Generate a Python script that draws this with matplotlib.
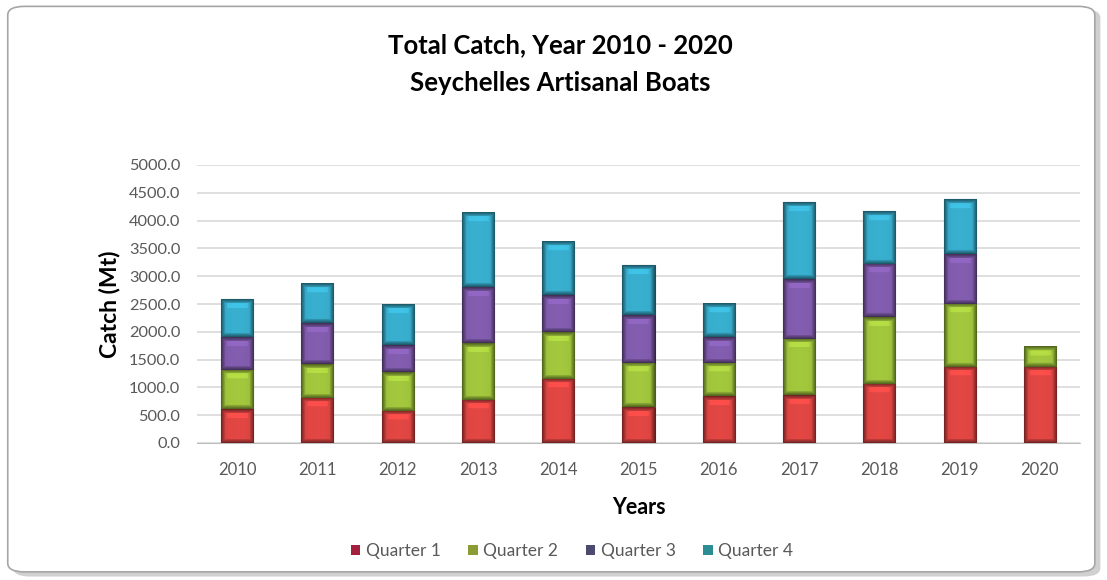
import matplotlib
matplotlib.use("Agg")
import matplotlib.pyplot as plt
from matplotlib.patches import FancyBboxPatch, Patch
from matplotlib.colors import to_rgb
import numpy as np

years = ["2010", "2011", "2012", "2013", "2014", "2015", "2016", "2017", "2018", "2019", "2020"]
q1 = [610, 817, 576, 781, 1158, 647, 845, 858, 1068, 1367, 1367]
q2 = [710, 611, 701, 1018, 838, 792, 601, 1020, 1198, 1140, 360]
q3 = [590, 737, 480, 1007, 660, 858, 460, 1079, 961, 899, 0]
q4 = [680, 702, 732, 1338, 959, 899, 601, 1378, 940, 977, 0]
series_names = ["Quarter 1", "Quarter 2", "Quarter 3", "Quarter 4"]
yticks = [0, 500, 1000, 1500, 2000, 2500, 3000, 3500, 4000, 4500, 5000]

colors = ["#D64340", "#9ABD3A", "#7C58A6", "#36A6C4"]
edges = ["#6E1A18", "#45601A", "#35234F", "#14505F"]
legend_colors = ["#A3213F", "#8C9C34", "#4C4A70", "#2C8C93"]

plt.rcParams['font.family'] = ['Lato', 'DejaVu Sans']

fig = plt.figure(figsize=(11.07, 5.80), dpi=100)
fig.patch.set_facecolor("white")

shadow = FancyBboxPatch((0.012, 0.006), 0.982, 0.978, boxstyle="round,pad=0,rounding_size=0.015",
                        transform=fig.transFigure, facecolor="#D0D0D0", edgecolor="none", zorder=-3)
border = FancyBboxPatch((0.007, 0.014), 0.982, 0.975, boxstyle="round,pad=0,rounding_size=0.015",
                        transform=fig.transFigure, facecolor="white", edgecolor="#A6A6A6", linewidth=1.2, zorder=-2)
fig.patches.extend([shadow, border])

ax = fig.add_axes([197/1107, 1 - 443/580, (1080-197)/1107, (443-165)/580])
ax.set_facecolor("none")
ax.set_zorder(1)
ax.set_xlim(-0.5, len(years) - 0.5)
ax.set_ylim(0, 5000)


def bevel_image(rgb, w_px, h_px):
    nx = max(int(round(w_px)), 4)
    ny = max(int(round(h_px)), 4)
    i = np.arange(nx)
    j = np.arange(ny)
    dx = np.minimum(i, nx - 1 - i)[None, :]
    dy = np.minimum(j, ny - 1 - j)[:, None]
    d = np.minimum(dx, dy).astype(float)
    shade = np.where(d < 4, 0.55 + 0.11 * d, 1.0)
    cx = (i - (nx - 1) / 2) / (nx / 2)
    shade = shade + np.where(d >= 4, 0.06 * (1 - cx[None, :] ** 2), 0)
    top = (ny - 1 - j)[:, None]
    shade = shade + np.where((top >= 4) & (top < 9) & (dx >= 6), 0.12, 0)
    img = np.clip(np.array(rgb)[None, None, :] * shade[:, :, None], 0, 1)
    return img


x = np.arange(len(years))
bottom = np.zeros(len(years))
px_per_x = (1080 - 197) / len(years)
px_per_y = (443 - 165) / 5000
for vals, c, e in zip([q1, q2, q3, q4], colors, edges):
    v = np.array(vals, dtype=float)
    mask = v > 0
    bars = ax.bar(x[mask], v[mask], width=0.4, bottom=bottom[mask], color=c, edgecolor=e,
                  linewidth=0.8, zorder=3)
    for r in bars.patches:
        x0, y0, w, h = r.get_x(), r.get_y(), r.get_width(), r.get_height()
        img = bevel_image(to_rgb(c), w * px_per_x, h * px_per_y)
        ax.imshow(img, extent=[x0, x0 + w, y0, y0 + h], origin="lower", aspect="auto",
                  interpolation="bilinear", zorder=3.5)
    bottom += v

ax.set_xlim(-0.5, len(years) - 0.5)
ax.set_ylim(0, 5000)
ax.set_aspect("auto")
ax.set_yticks(yticks)
ax.set_yticklabels([f"{t:.1f}" for t in yticks])
ax.set_xticks(x)
ax.set_xticklabels(years)
ax.tick_params(axis="both", length=0, labelcolor="#595959")
ax.tick_params(axis="x", pad=14, labelsize=12)
ax.tick_params(axis="y", pad=12, labelsize=11.8)
ax.yaxis.grid(True, color="#D9D9D9", linewidth=1.2, zorder=0)
ax.set_axisbelow(True)
for s in ["top", "right", "left"]:
    ax.spines[s].set_visible(False)
ax.spines["bottom"].set_color("#BFBFBF")

ax.set_ylabel("Catch (Mt)", fontsize=16.5, fontweight="bold", color="black", labelpad=6)
ax.set_xlabel("Years", fontsize=15.5, fontweight="bold", color="black", labelpad=13)

fig.text(560/1107, 1 - 45/580, "Total Catch, Year 2010 - 2020", ha="center", va="center",
         fontsize=18.5, fontweight="bold")
fig.text(560/1107, 1 - 83/580, "Seychelles Artisanal Boats", ha="center", va="center",
         fontsize=18.5, fontweight="bold")

handles = [Patch(facecolor=c, edgecolor="none") for c in legend_colors]
fig.legend(handles, series_names, loc="center", bbox_to_anchor=(572/1107, 1 - 551/580), ncol=4,
           frameon=False, fontsize=12.5, labelcolor="#595959", handlelength=0.55, handleheight=0.55,
           handletextpad=0.3, columnspacing=1.6)

fig.savefig("out.png", dpi=100)
